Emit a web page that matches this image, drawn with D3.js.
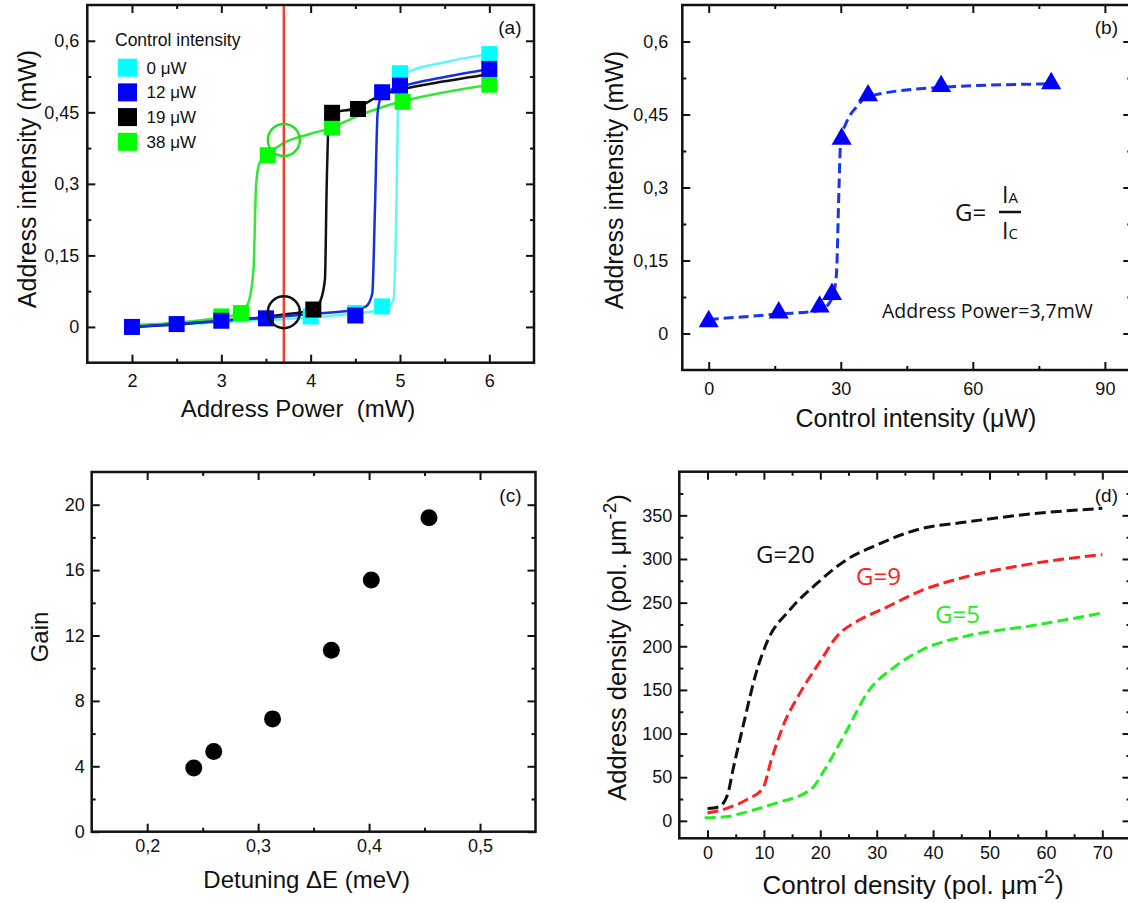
<!DOCTYPE html>
<html><head><meta charset="utf-8">
<script src="https://cdn.jsdelivr.net/npm/d3@7/dist/d3.min.js"></script>
<style>
body{margin:0;background:#fff}
svg text{font-family:"Liberation Sans",Arial,sans-serif;fill:#111}
.ann{font-family:"Open Sans","Noto Sans",sans-serif}
</style>
</head><body>
<svg id="chart" width="1128" height="903"></svg>
<script>
// ---------- Panel (a): Address intensity vs Address power ----------
const aSeriesNames = ["0 μW", "12 μW", "19 μW", "38 μW"];
const aPts0x  = [4.0, 4.5, 4.8, 5.0, 6.0];
const aPts0y  = [0.022, 0.029, 0.043, 0.532, 0.572];
const aPts12x = [2.0, 2.5, 3.0, 3.5, 4.5, 4.8, 5.0, 6.0];
const aPts12y = [0.0, 0.006, 0.013, 0.018, 0.024, 0.492, 0.506, 0.541];
const aPts19x = [4.03, 4.24, 4.53];
const aPts19y = [0.0365, 0.449, 0.457];
const aPts38x = [3.0, 3.22, 3.52, 4.24, 5.03, 6.0];
const aPts38y = [0.022, 0.029, 0.36, 0.418, 0.472, 0.508];
// fitted curves
const aFit0x  = [2.0, 3.0, 4.0, 4.5, 4.85, 4.93, 4.96, 4.98, 5.02, 5.5, 6.0];
const aFit0y  = [0.0, 0.01, 0.02, 0.028, 0.038, 0.06, 0.25, 0.47, 0.528, 0.555, 0.572];
const aFit12x = [2.0, 2.5, 3.0, 3.5, 4.0, 4.5, 4.62, 4.69, 4.72, 4.75, 4.8, 5.0, 5.5, 6.0];
const aFit12y = [0.0, 0.006, 0.013, 0.019, 0.027, 0.036, 0.043, 0.07, 0.25, 0.45, 0.488, 0.503, 0.524, 0.541];
const aFit19x = [2.0, 2.5, 3.0, 3.5, 3.7, 4.03, 4.11, 4.16, 4.18, 4.2, 4.24, 4.5, 4.8, 5.0, 5.5, 6.0];
const aFit19y = [0.0, 0.005, 0.013, 0.021, 0.026, 0.036, 0.055, 0.1, 0.3, 0.42, 0.449, 0.458, 0.487, 0.497, 0.515, 0.53];
const aFit38x = [2.0, 2.5, 3.0, 3.2, 3.3, 3.36, 3.39, 3.43, 3.52, 3.7, 4.0, 4.24, 4.5, 5.0, 5.5, 6.0];
const aFit38y = [0.004, 0.009, 0.02, 0.028, 0.05, 0.12, 0.3, 0.345, 0.362, 0.386, 0.405, 0.418, 0.44, 0.472, 0.492, 0.508];
const aMarkPower = 3.7;
const aCircleY = [0.392, 0.031];
const aXTicks = [2, 3, 4, 5, 6], aXMinor = [2.5, 3.5, 4.5, 5.5];
const aYTicks = [0, 0.15, 0.3, 0.45, 0.6], aYMinor = [0.075, 0.225, 0.375, 0.525];

// ---------- Panel (b): Address intensity vs Control intensity ----------
const bCtrl = [0, 15.9, 25.2, 28.0, 30.2, 36.2, 52.8, 77.8];
const bAddr = [0.025, 0.043, 0.055, 0.081, 0.40, 0.489, 0.508, 0.514];
const bFitX = [0, 15.9, 25.2, 28.0, 29.0, 29.6, 30.0, 31.1, 33.6, 36.2, 52.8, 77.8];
const bFitY = [0.029, 0.040, 0.047, 0.072, 0.12, 0.3, 0.40, 0.43, 0.466, 0.487, 0.506, 0.513];
const bXTicks = [0, 30, 60, 90], bXMinor = [15, 45, 75];

// ---------- Panel (c): Gain vs detuning ----------
const cDetuning = [0.242, 0.260, 0.313, 0.366, 0.402, 0.454];
const cGain = [3.9, 4.9, 6.9, 11.1, 15.4, 19.2];
const cXTicks = [0.2, 0.3, 0.4, 0.5], cXMinor = [0.25, 0.35, 0.45];
const cYTicks = [0, 4, 8, 12, 16, 20], cYMinor = [2, 6, 10, 14, 18];

// ---------- Panel (d): Address density vs Control density ----------
const dLabels = ["G=20", "G=9", "G=5"];
const dG20x = [0, 2, 3.6, 4.5, 6.4, 8.6, 10.7, 14.5, 19.4, 24.4, 30, 38, 45.5, 57.9, 70];
const dG20y = [14, 16, 31, 58, 111, 169, 207, 241, 272, 298, 316, 335, 342, 352, 358];
const dG9x  = [0, 3.3, 7.0, 9.8, 11.3, 13.8, 16.0, 20.1, 22.9, 26.9, 31.2, 38, 45.5, 57.9, 70];
const dG9y  = [9, 14, 24.5, 37, 69.5, 115, 142, 184, 211, 230, 243, 264, 279, 295, 305];
const dG5x  = [-0.5, 3.3, 7.0, 12.0, 18.5, 20.7, 24.4, 28.7, 33.1, 38.4, 45.5, 57.9, 70];
const dG5y  = [3.5, 4.6, 10.3, 20, 37, 58, 100, 150, 176, 197, 211, 224, 238];
const dXTicks = [0, 10, 20, 30, 40, 50, 60, 70], dXMinor = [5, 15, 25, 35, 45, 55, 65];
const dYTicks = [0, 50, 100, 150, 200, 250, 300, 350], dYMinor = [25, 75, 125, 175, 225, 275, 325, 375];

// ================= drawing =================
const svg = d3.select("#chart");
svg.append("rect").attr("width", 1128).attr("height", 903).attr("fill", "#fff");
const comma = d => String(d).replace(".", ",");
const zip = (xs, ys) => xs.map((x, i) => [x, ys[i]]);

function frame(x, y, o) {
  const g = svg.append("g");
  const [x0, x1] = x.range(), [y0, y1] = y.range();
  const axes = [
    {ax: d3.axisBottom(x), t: `translate(0,${y0})`, lab: true, ticks: o.xt, minor: o.xm, pad: o.xpad, fmt: o.xfmt},
    {ax: d3.axisTop(x), t: `translate(0,${y1})`, lab: false, ticks: o.xt, minor: o.xm},
    {ax: d3.axisLeft(y), t: `translate(${x0},0)`, lab: true, ticks: o.yt, minor: o.ym, pad: o.ypad, fmt: o.yfmt},
    {ax: d3.axisRight(y), t: `translate(${x1},0)`, lab: false, ticks: o.yt, minor: o.ym}
  ];
  axes.forEach(a => {
    const ga = g.append("g").attr("transform", a.t).call(
      a.ax.tickValues(a.ticks).tickSize(-8).tickSizeOuter(0)
        .tickPadding(a.pad || 0).tickFormat(a.lab ? a.fmt : ""));
    ga.select(".domain").remove();
    ga.selectAll("line").attr("stroke", "#111").attr("stroke-width", 2);
    ga.selectAll("text").attr("font-size", 18).attr("fill", "#111")
      .style("font-family", '"Liberation Sans",Arial,sans-serif');
    const gm = g.append("g").attr("transform", a.t).call(
      a.ax.tickValues(a.minor).tickSize(-4).tickFormat(""));
    gm.select(".domain").remove();
    gm.selectAll("line").attr("stroke", "#111").attr("stroke-width", 2);
  });
  g.append("rect").attr("x", x0).attr("y", y1).attr("width", x1 - x0).attr("height", y0 - y1)
    .attr("fill", "none").attr("stroke", "#111").attr("stroke-width", 2.5);
}

function vtitle(xc, yc, parts, size) {
  const t = svg.append("text").attr("transform", `translate(${xc},${yc}) rotate(-90)`)
    .attr("text-anchor", "middle").attr("dy", "0.35em").attr("font-size", size);
  parts.forEach(p => t.append("tspan").text(p[0]).attr("baseline-shift", p[1] ? "super" : null)
    .attr("font-size", p[1] ? size * 0.75 : null));
  return t;
}
function htitle(xc, yc, parts, size) {
  const t = svg.append("text").attr("x", xc).attr("y", yc).attr("text-anchor", "middle")
    .attr("dy", "0.35em").attr("font-size", size).style("white-space", "pre");
  parts.forEach(p => t.append("tspan").text(p[0]).attr("baseline-shift", p[1] ? "super" : null)
    .attr("font-size", p[1] ? size * 0.75 : null));
  return t;
}
function plabel(xr, yc, s) {
  svg.append("text").attr("x", xr).attr("y", yc).attr("dy", "0.35em").attr("text-anchor", "end")
    .attr("font-size", 19).text(s);
}

// ---- Panel (a)
{
  const x = d3.scaleLinear().domain([1.5, 6.5]).range([87.3, 534]);
  const y = d3.scaleLinear().domain([-0.075, 0.675]).range([362.7, 5]);
  const colsLine = ["#66f5f5", "#1530e0", "#111", "#33e833"];
  const colsFill = ["#00ffff", "#0000ff", "#000", "#00ff00"];
  const fits = [zip(aFit0x, aFit0y), zip(aFit12x, aFit12y), zip(aFit19x, aFit19y), zip(aFit38x, aFit38y)];
  const pts = [zip(aPts0x, aPts0y), zip(aPts12x, aPts12y), zip(aPts19x, aPts19y), zip(aPts38x, aPts38y)];
  const line = d3.line().x(d => x(d[0])).y(d => y(d[1])).curve(d3.curveMonotoneX);
  const order = [0, 3, 2, 1];
  order.forEach(i => svg.append("path").attr("d", line(fits[i])).attr("fill", "none")
    .attr("stroke", colsLine[i]).attr("stroke-width", 2.5));
  svg.append("line").attr("x1", x(aMarkPower)).attr("x2", x(aMarkPower)).attr("y1", y.range()[1]).attr("y2", y.range()[0])
    .attr("stroke", "#f0402c").attr("stroke-width", 2.5);
  const S = 16;
  order.forEach(i => svg.append("g").selectAll("rect").data(pts[i]).join("rect")
    .attr("x", d => x(d[0]) - S / 2).attr("y", d => y(d[1]) - S / 2).attr("width", S).attr("height", S)
    .attr("fill", colsFill[i]));
  svg.append("circle").attr("cx", x(aMarkPower)).attr("cy", y(aCircleY[0])).attr("r", 16)
    .attr("fill", "none").attr("stroke", "#22e022").attr("stroke-width", 2.5);
  svg.append("circle").attr("cx", x(aMarkPower)).attr("cy", y(aCircleY[1])).attr("r", 16)
    .attr("fill", "none").attr("stroke", "#111").attr("stroke-width", 2.5);
  frame(x, y, {xt: aXTicks, xm: aXMinor, yt: aYTicks, ym: aYMinor, xpad: 12, ypad: 8, xfmt: comma, yfmt: comma});
  // legend
  svg.append("text").attr("x", 115).attr("y", 40).attr("dy", "0.35em").attr("font-size", 17.5).text("Control intensity");
  aSeriesNames.forEach((n, i) => {
    const yc = 67.7 + i * 24.7;
    svg.append("rect").attr("x", 118).attr("y", yc - 9).attr("width", 19).attr("height", 18).attr("fill", colsFill[i]);
    svg.append("text").attr("x", 146.5).attr("y", yc).attr("dy", "0.35em").attr("font-size", 17).text(n);
  });
  vtitle(27, 179, [["Address intensity (mW)"]], 25);
  htitle(298, 409, [["Address Power  (mW)"]], 24);
  plabel(521.5, 27, "(a)");
}

// ---- Panel (b)
{
  const x = d3.scaleLinear().domain([-6, 96]).range([682.3, 1131.3]);
  const y = d3.scaleLinear().domain([-0.075, 0.675]).range([370, 5]);
  const line = d3.line().x(d => x(d[0])).y(d => y(d[1])).curve(d3.curveMonotoneX);
  svg.append("path").attr("d", line(zip(bFitX, bFitY))).attr("fill", "none")
    .attr("stroke", "#1a35ea").attr("stroke-width", 3).attr("stroke-dasharray", "10,5");
  svg.append("g").selectAll("path").data(zip(bCtrl, bAddr)).join("path")
    .attr("d", d3.symbol(d3.symbolTriangle).size(175))
    .attr("transform", d => `translate(${x(d[0])},${y(d[1])})`).attr("fill", "#0000ff");
  frame(x, y, {xt: bXTicks, xm: bXMinor, yt: aYTicks, ym: aYMinor, xpad: 12, ypad: 14, xfmt: comma, yfmt: comma});
  vtitle(614, 180, [["Address intensity (mW)"]], 25);
  htitle(916, 418, [["Control intensity (μW)"]], 25);
  plabel(1118, 27, "(b)");
  const ann = svg.append("g");
  ann.append("text").attr("class", "ann").attr("x", 955).attr("y", 213).attr("dy", "0.35em").attr("font-size", 24).text("G=");
  const ia = ann.append("text").attr("class", "ann").attr("x", 1002).attr("y", 203).attr("font-size", 23);
  ia.append("tspan").text("I"); ia.append("tspan").attr("font-size", 15).text("A");
  ann.append("line").attr("x1", 999).attr("x2", 1021).attr("y1", 212).attr("y2", 212).attr("stroke", "#111").attr("stroke-width", 2.5);
  const ic = ann.append("text").attr("class", "ann").attr("x", 1002).attr("y", 239).attr("font-size", 23);
  ic.append("tspan").text("I"); ic.append("tspan").attr("font-size", 15).text("C");
  ann.append("text").attr("class", "ann").attr("x", 882).attr("y", 311).attr("dy", "0.35em").attr("font-size", 19.5)
    .text("Address Power=3,7mW");
}

// ---- Panel (c)
{
  const x = d3.scaleLinear().domain([0.15, 0.55]).range([91.7, 535.5]);
  const y = d3.scaleLinear().domain([0, 22]).range([831.7, 472]);
  svg.append("g").selectAll("circle").data(zip(cDetuning, cGain)).join("circle")
    .attr("cx", d => x(d[0])).attr("cy", d => y(d[1])).attr("r", 8.5).attr("fill", "#000");
  frame(x, y, {xt: cXTicks, xm: cXMinor, yt: cYTicks, ym: cYMinor, xpad: 8, ypad: 7, xfmt: comma, yfmt: d => d});
  vtitle(40, 637, [["Gain"]], 24);
  htitle(306.7, 880, [["Detuning ΔE (meV)"]], 24);
  plabel(521.5, 495, "(c)");
}

// ---- Panel (d)
{
  const x = d3.scaleLinear().domain([-5, 75]).range([679.3, 1130.5]);
  const y = d3.scaleLinear().domain([-20, 400]).range([838.3, 471.7]);
  const line = d3.line().x(d => x(d[0])).y(d => y(d[1])).curve(d3.curveMonotoneX);
  const series = [zip(dG20x, dG20y), zip(dG9x, dG9y), zip(dG5x, dG5y)];
  const cols = ["#111", "#ff2020", "#22ee22"];
  series.forEach((s, i) => svg.append("path").attr("d", line(s)).attr("fill", "none")
    .attr("stroke", cols[i]).attr("stroke-width", 3).attr("stroke-dasharray", "11,5"));
  frame(x, y, {xt: dXTicks, xm: dXMinor, yt: dYTicks, ym: dYMinor, xpad: 8, ypad: 7, xfmt: d => d, yfmt: d => d});
  const lab = [[756, 555], [856, 577], [935, 615]];
  dLabels.forEach((s, i) => svg.append("text").attr("class", "ann").attr("x", lab[i][0]).attr("y", lab[i][1])
    .attr("dy", "0.35em").attr("font-size", 24).style("fill", cols[i]).text(s));
  vtitle(616.7, 647.5, [["Address density (pol. μm"], ["-2", true], [")"]], 25.5);
  htitle(913, 885, [["Control density (pol. μm"], ["-2", true], [")"]], 26);
  plabel(1118, 495, "(d)");
}
</script>
</body></html>
